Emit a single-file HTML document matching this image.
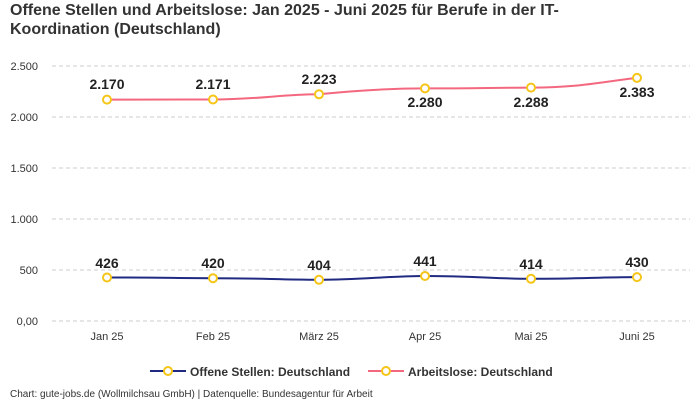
<!DOCTYPE html>
<html><head><meta charset="utf-8"><style>
body{margin:0;background:#fff;width:700px;height:400px;overflow:hidden;font-family:"Liberation Sans",sans-serif;}
</style></head><body>
<svg width="700" height="400" xmlns="http://www.w3.org/2000/svg" font-family="Liberation Sans, sans-serif">
<text x="10" y="15" font-size="16" font-weight="bold" fill="#333">Offene Stellen und Arbeitslose: Jan 2025 - Juni 2025 für Berufe in der IT-</text>
<text x="10" y="34" font-size="16" font-weight="bold" fill="#333">Koordination (Deutschland)</text>
<g stroke="#ccc" stroke-dasharray="4,3" stroke-width="1">
<line x1="52" x2="690" y1="66" y2="66"/><line x1="52" x2="690" y1="117" y2="117"/>
<line x1="52" x2="690" y1="168" y2="168"/><line x1="52" x2="690" y1="219" y2="219"/>
<line x1="52" x2="690" y1="270" y2="270"/><line x1="52" x2="690" y1="321" y2="321"/>
</g>
<g font-size="11" fill="#333" text-anchor="end">
<text x="38" y="70">2.500</text><text x="38" y="121">2.000</text><text x="38" y="172">1.500</text>
<text x="38" y="223">1.000</text><text x="38" y="274">500</text><text x="38" y="325">0,00</text>
</g>
<g font-size="11" fill="#333" text-anchor="middle">
<text x="107" y="340">Jan 25</text><text x="213" y="340">Feb 25</text><text x="319" y="340">März 25</text>
<text x="425" y="340">Apr 25</text><text x="531" y="340">Mai 25</text><text x="637" y="340">Juni 25</text>
</g>
<path d="M107,99.6 C160,99.6 180,99.5 213,99.5 C260,99.5 280,94.3 319,94.3 C360,90 390,88.4 425,88.4 C470,88.4 500,87.6 531,87.6 C580,87.6 600,82 637,77.9" fill="none" stroke="#f4687f" stroke-width="2"/>
<path d="M107,277.5 C160,277.5 180,278.2 213,278.2 C260,278.2 280,279.8 319,279.8 C360,279.8 390,276 425,276 C470,276 500,278.8 531,278.8 C580,278.8 600,277.1 637,277.1" fill="none" stroke="#1f2a80" stroke-width="2"/>
<g fill="#fff" stroke="#f5c518" stroke-width="2">
<circle cx="107" cy="99.6" r="4"/><circle cx="213" cy="99.5" r="4"/><circle cx="319" cy="94.3" r="4"/>
<circle cx="425" cy="88.4" r="4"/><circle cx="531" cy="87.6" r="4"/><circle cx="637" cy="77.9" r="4"/>
<circle cx="107" cy="277.5" r="4"/><circle cx="213" cy="278.2" r="4"/><circle cx="319" cy="279.8" r="4"/>
<circle cx="425" cy="276" r="4"/><circle cx="531" cy="278.8" r="4"/><circle cx="637" cy="277.1" r="4"/>
</g>
<g font-size="14" font-weight="bold" fill="#222" text-anchor="middle">
<text x="107" y="89">2.170</text><text x="213" y="89">2.171</text><text x="319" y="84">2.223</text>
<text x="425" y="107">2.280</text><text x="531" y="107">2.288</text><text x="637" y="97">2.383</text>
<text x="107" y="268">426</text><text x="213" y="268">420</text><text x="319" y="270">404</text>
<text x="425" y="266">441</text><text x="531" y="269">414</text><text x="637" y="267">430</text>
</g>
<line x1="150" x2="186" y1="371" y2="371" stroke="#1f2a80" stroke-width="2"/>
<circle cx="168" cy="371" r="4" fill="#fff" stroke="#f5c518" stroke-width="2"/>
<text x="190" y="376" font-size="12" font-weight="bold" fill="#333">Offene Stellen: Deutschland</text>
<line x1="368" x2="404" y1="371" y2="371" stroke="#f4687f" stroke-width="2"/>
<circle cx="386" cy="371" r="4" fill="#fff" stroke="#f5c518" stroke-width="2"/>
<text x="408" y="376" font-size="12" font-weight="bold" fill="#333">Arbeitslose: Deutschland</text>
<text x="10" y="397" font-size="10" fill="#333">Chart: gute-jobs.de (Wollmilchsau GmbH) | Datenquelle: Bundesagentur für Arbeit</text>
</svg>
</body></html>
